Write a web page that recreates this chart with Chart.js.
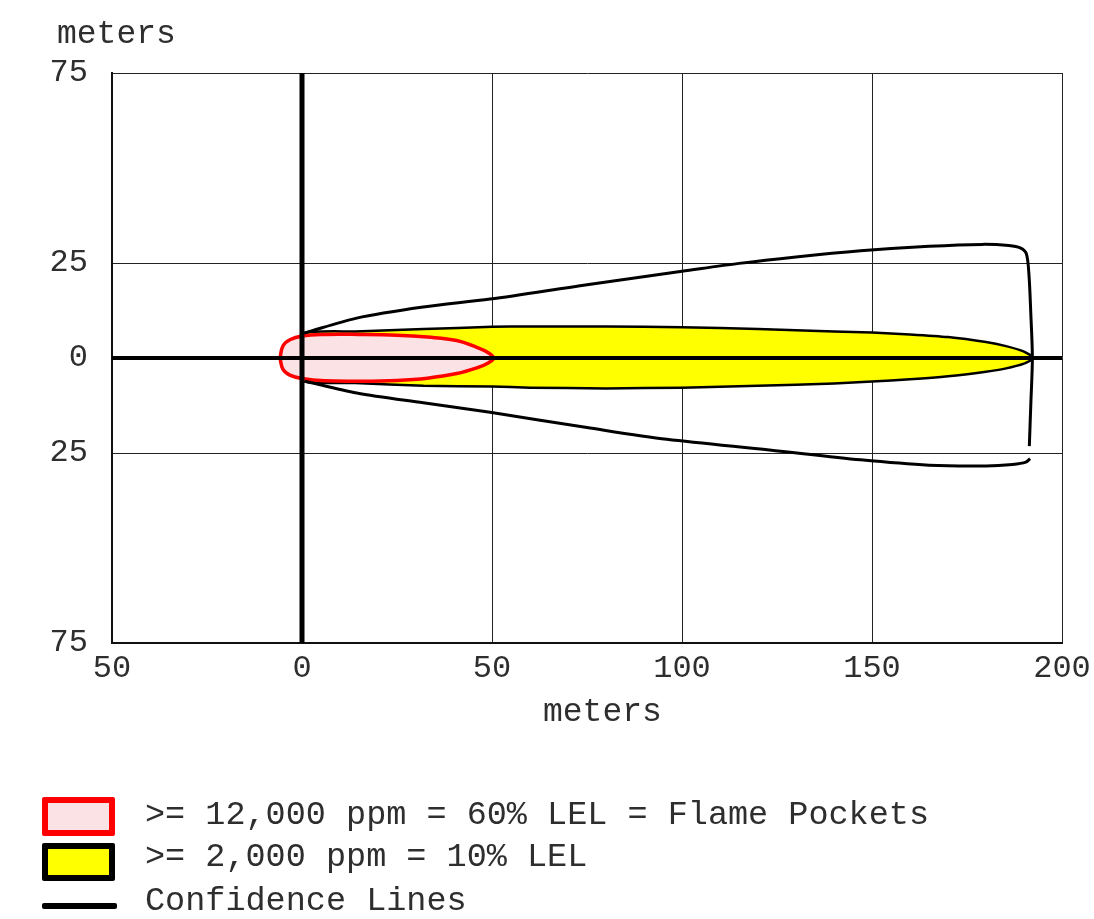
<!DOCTYPE html>
<html><head><meta charset="utf-8">
<script src="https://cdn.jsdelivr.net/npm/chart.js@4.4.1/dist/chart.umd.min.js"></script>
<style>
html,body{margin:0;padding:0;background:#fff;}
#wrap{position:relative;width:1094px;height:919px;overflow:hidden;}
canvas{position:absolute;left:0;top:0;}
.leg{position:absolute;font-family:'Liberation Mono',monospace;font-size:33.5px;color:#2e2e2e;white-space:pre;line-height:33px;}
.box{position:absolute;box-sizing:border-box;}
</style></head><body>
<div id="wrap">
<canvas id="c" width="1094" height="919"></canvas>
<div class="box" style="left:42px;top:797px;width:73px;height:39px;border:6px solid #ff0000;background:#fbe3e5;border-radius:2px"></div>
<div class="leg" id="l1" style="left:145px;top:799px"></div>
<div class="box" style="left:42px;top:843px;width:73px;height:38px;border:6px solid #000;background:#ffff00;border-radius:2px"></div>
<div class="leg" id="l2" style="left:145px;top:841px"></div>
<div class="box" style="left:42px;top:903px;width:75px;height:6px;background:#000;border-radius:2px"></div>
<div class="leg" id="l3" style="left:145px;top:885px"></div>
</div>
<script>
// ---- data (meters) ----
const xTicks = [-50, 0, 50, 100, 150, 200];
const yTicks = [-75, -25, 0, 25, 75];
const xTitle = 'meters';
const yTitle = 'meters';
const legendLabels = ['>= 12,000 ppm = 60% LEL = Flame Pockets', '>= 2,000 ppm = 10% LEL', 'Confidence Lines'];

// red zone (>= 12,000 ppm) outline
const redX = [-5.8, -5.0, -3.2, 0, 6, 15, 25, 33, 40.7, 46, 49, 50.4, 49, 46, 40.7, 33, 25, 15, 6, 0, -3.2, -5.0, -5.8];
const redY = [0, 3.2, 4.8, 5.8, 6.2, 6.2, 6.0, 5.5, 4.6, 2.8, 1.4, 0, -1.3, -2.6, -4.1, -5.3, -5.9, -6.1, -6.0, -5.4, -4.5, -3.0, 0];

// yellow zone (>= 2,000 ppm) outline
const yelX = [-1.5, 0, 14, 32, 50, 60, 80, 100, 120, 140, 150, 160, 170, 180, 185, 190, 192.5, 190, 185, 180, 170, 160, 150, 140, 120, 100, 80, 60, 50, 32, 14, 0, -1.5];
const yelY = [0, 6.4, 7.0, 7.6, 8.2, 8.3, 8.3, 8.1, 7.6, 7.0, 6.7, 6.2, 5.5, 4.2, 3.2, 1.7, 0, -1.5, -2.8, -3.6, -4.8, -5.6, -6.2, -6.7, -7.3, -7.8, -8.0, -7.8, -7.5, -7.3, -6.6, -6.0, 0];

// confidence lines
const cuX = [0.8, 14.4, 31.9, 49.5, 75, 100, 115, 130, 147, 165, 179, 186, 189, 190.6, 191.3, 191.8, 192.2, 191.8, 191.4];
const cuY = [6.6, 10.5, 13.4, 15.5, 19.3, 22.8, 24.9, 26.6, 28.2, 29.4, 29.9, 29.6, 29.0, 27.5, 22.0, 11.5, 0, -12.0, -23.2];
const clX = [0.8, 14.4, 31.9, 49.5, 75, 96, 123, 147, 165, 180, 187, 190.5, 191.6];
const clY = [-6.1, -9.2, -11.8, -14.3, -18.3, -21.4, -24.2, -26.8, -28.2, -28.4, -28.0, -27.4, -26.5];

// source axes (thick zero lines)
const hzX = [-50, 200], hzY = [0, 0];
const vtX = [0, 0], vtY = [-75, 75];

document.getElementById('l1').textContent = legendLabels[0];
document.getElementById('l2').textContent = legendLabels[1];
document.getElementById('l3').textContent = legendLabels[2];

const FONT = "'Liberation Mono', monospace";
const TXT = '#2e2e2e';
const pts = (xs, ys) => xs.map((x, i) => ({x, y: ys[i]}));
const ds = (label, xs, ys, o) => Object.assign({label, data: pts(xs, ys), showLine: true, pointRadius: 0, pointHoverRadius: 0, fill: false}, o);

const titles = {
  id: 'titles',
  afterDraw(chart) {
    const ctx = chart.ctx;
    ctx.save();
    ctx.font = '33px ' + FONT;
    ctx.fillStyle = TXT;
    ctx.textAlign = 'left';
    ctx.textBaseline = 'alphabetic';
    ctx.fillText(yTitle, 57, 43);
    ctx.fillText(xTitle, 543, 721);
    ctx.restore();
  }
};

new Chart(document.getElementById('c'), {
  type: 'scatter',
  data: {
    datasets: [
      ds('x axis', hzX, hzY, {borderColor: '#000', borderWidth: 4}),
      ds('y axis', vtX, vtY, {borderColor: '#000', borderWidth: 5}),
      ds('Confidence upper', cuX, cuY, {borderColor: '#000', borderWidth: 3, tension: 0.3}),
      ds('Confidence lower', clX, clY, {borderColor: '#000', borderWidth: 3, tension: 0.3}),
      ds(legendLabels[0], redX, redY, {borderColor: '#ff0000', borderWidth: 3.5, backgroundColor: '#fbe3e5', fill: 'shape', tension: 0.4}),
      ds(legendLabels[1], yelX, yelY, {borderColor: '#000', borderWidth: 2.5, backgroundColor: '#ffff00', fill: 'shape', tension: 0.2})
    ]
  },
  options: {
    responsive: false,
    animation: false,
    events: [],
    layout: {padding: {top: 73, left: 0, right: 32, bottom: 216}},
    plugins: {legend: {display: false}, tooltip: {enabled: false}},
    scales: {
      x: {
        type: 'linear', min: -50, max: 200, z: 1,
        afterBuildTicks: s => { s.ticks = xTicks.map(v => ({value: v})); },
        afterFit: s => { s.height = 60; s.paddingLeft = 0; s.paddingRight = 0; },
        grid: {color: '#222', lineWidth: 1, drawTicks: false},
        border: {color: '#111', width: 2},
        ticks: {padding: 6, font: {family: FONT, size: 32}, color: TXT, callback: v => String(Math.abs(v)), maxRotation: 0}
      },
      y: {
        type: 'linear', min: -75, max: 75, z: 1,
        afterBuildTicks: s => { s.ticks = yTicks.map(v => ({value: v})); },
        afterFit: s => { s.width = 112; s.paddingTop = 0; s.paddingBottom = 0; },
        grid: {color: '#222', lineWidth: 1, drawTicks: false},
        border: {color: '#111', width: 2},
        ticks: {padding: 24, font: {family: FONT, size: 32}, color: TXT, callback: v => String(Math.abs(v))}
      }
    }
  },
  plugins: [titles]
});
</script>
</body></html>
